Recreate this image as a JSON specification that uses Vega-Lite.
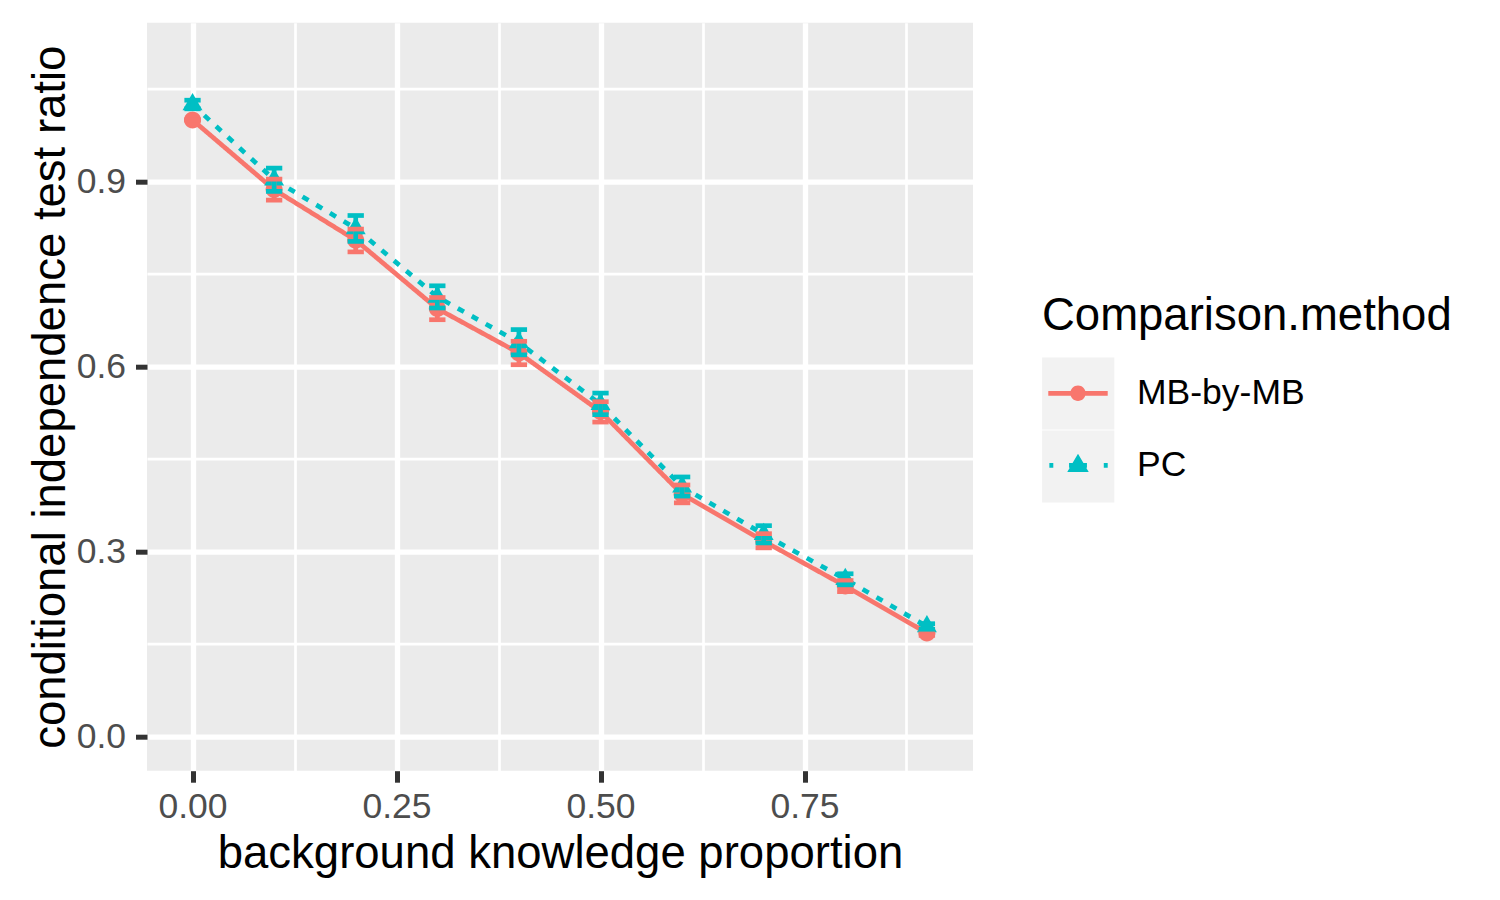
{
  "$schema": "https://vega.github.io/schema/vega-lite/v6.json",
  "width": 826,
  "height": 748,
  "autosize": {"type": "none"},
  "padding": {"left": 147, "top": 22.7, "right": 527, "bottom": 129.3},
  "background": "white",
  "config": {
    "font": "Liberation Sans",
    "view": {"fill": "#EBEBEB", "stroke": null},
    "axis": {
      "domain": false,
      "grid": true,
      "gridColor": "white",
      "tickColor": "#333333",
      "tickWidth": 5,
      "tickSize": 11.5,
      "labelFont": "Liberation Sans",
      "labelFontSize": 35.5,
      "labelColor": "#4D4D4D",
      "labelOverlap": false,
      "labelFlush": false,
      "titleFont": "Liberation Sans",
      "titleFontSize": 45.5,
      "titleFontWeight": "normal",
      "titleColor": "black"
    },
    "axisX": {"labelPadding": 7},
    "axisY": {"labelPadding": 10}
  },
  "data": {
    "values": [
      {"p": 0.0, "method": "MB-by-MB", "ratio": 1.0, "lo": 1.0, "hi": 1.0},
      {"p": 0.1, "method": "MB-by-MB", "ratio": 0.887, "lo": 0.87, "hi": 0.904},
      {"p": 0.2, "method": "MB-by-MB", "ratio": 0.805, "lo": 0.786, "hi": 0.823},
      {"p": 0.3, "method": "MB-by-MB", "ratio": 0.694, "lo": 0.676, "hi": 0.712},
      {"p": 0.4, "method": "MB-by-MB", "ratio": 0.622, "lo": 0.603, "hi": 0.641},
      {"p": 0.5, "method": "MB-by-MB", "ratio": 0.527, "lo": 0.51, "hi": 0.543},
      {"p": 0.6, "method": "MB-by-MB", "ratio": 0.393, "lo": 0.379, "hi": 0.408},
      {"p": 0.7, "method": "MB-by-MB", "ratio": 0.317, "lo": 0.306, "hi": 0.329},
      {"p": 0.8, "method": "MB-by-MB", "ratio": 0.244, "lo": 0.235, "hi": 0.253},
      {"p": 0.9, "method": "MB-by-MB", "ratio": 0.168, "lo": 0.164, "hi": 0.172},
      {"p": 0.0, "method": "PC", "ratio": 1.025, "lo": 1.018, "hi": 1.032},
      {"p": 0.1, "method": "PC", "ratio": 0.903, "lo": 0.884, "hi": 0.922},
      {"p": 0.2, "method": "PC", "ratio": 0.824, "lo": 0.803, "hi": 0.845},
      {"p": 0.3, "method": "PC", "ratio": 0.713, "lo": 0.695, "hi": 0.731},
      {"p": 0.4, "method": "PC", "ratio": 0.639, "lo": 0.619, "hi": 0.66},
      {"p": 0.5, "method": "PC", "ratio": 0.539, "lo": 0.522, "hi": 0.557},
      {"p": 0.6, "method": "PC", "ratio": 0.405, "lo": 0.39, "hi": 0.421},
      {"p": 0.7, "method": "PC", "ratio": 0.328, "lo": 0.314, "hi": 0.342},
      {"p": 0.8, "method": "PC", "ratio": 0.255, "lo": 0.246, "hi": 0.264},
      {"p": 0.9, "method": "PC", "ratio": 0.1785, "lo": 0.174, "hi": 0.183}
    ]
  },
  "encoding": {
    "x": {
      "field": "p",
      "type": "quantitative",
      "scale": {"domain": [-0.0558, 0.9565], "nice": false, "zero": false},
      "axis": {
        "title": "background knowledge proportion",
        "values": [0, 0.125, 0.25, 0.375, 0.5, 0.625, 0.75, 0.875],
        "labelExpr": "(round(datum.value*1000) % 250) != 0 ? '' : format(datum.value, '.2f')",
        "gridWidth": {"condition": {"test": "(round(datum.value*1000) % 250) != 0", "value": 2.7}, "value": 5.3},
        "tickOpacity": {"condition": {"test": "(round(datum.value*1000) % 250) != 0", "value": 0}, "value": 1},
        "titleBaseline": "alphabetic",
        "titleY": 96.7
      }
    }
  },
  "layer": [
    {
      "mark": {"type": "line", "strokeWidth": 4.7},
      "encoding": {
        "y": {
          "field": "ratio",
          "type": "quantitative",
          "title": "conditional independence test ratio",
          "scale": {"domain": [-0.0554, 1.1577], "nice": false, "zero": false},
          "axis": {
            "values": [0, 0.15, 0.3, 0.45, 0.6, 0.75, 0.9, 1.05],
            "labelExpr": "(round(datum.value*100) % 30) != 0 ? '' : format(datum.value, '.1f')",
            "gridWidth": {"condition": {"test": "(round(datum.value*100) % 30) != 0", "value": 2.7}, "value": 5.3},
            "tickOpacity": {"condition": {"test": "(round(datum.value*100) % 30) != 0", "value": 0}, "value": 1},
            "titleBaseline": "alphabetic",
            "titleAngle": -90,
            "titleAlign": "center",
            "titleX": -82.3,
            "titleY": 374
          }
        },
        "color": {"field": "method", "type": "nominal", "scale": {"range": ["#F8766D", "#00BFC4"]}},
        "strokeDash": {"field": "method", "type": "nominal", "scale": {"range": [[1, 0], [7, 9]]}, "legend": null}
      }
    },
    {
      "mark": {"type": "point", "filled": true, "opacity": 1, "size": 529},
      "encoding": {
        "y": {"field": "ratio", "type": "quantitative", "title": "conditional independence test ratio", "scale": {"domain": [-0.0554, 1.1577], "nice": false, "zero": false}},
        "shape": {
          "field": "method",
          "type": "nominal",
          "scale": {"range": ["M 0.74 0 A 0.74 0.74 0 1 1 -0.74 0 A 0.74 0.74 0 1 1 0.74 0 Z", "M 0 -1 L 0.866 0.5 L -0.866 0.5 Z"]},
          "legend": null
        },
        "color": {
          "field": "method",
          "type": "nominal",
          "scale": {"range": ["#F8766D", "#00BFC4"]},
          "legend": {
            "title": "Comparison.method",
            "orient": "none",
            "direction": "vertical",
            "legendX": 895,
            "legendY": 271.4,
            "padding": 0,
            "rowPadding": 0,
            "symbolSize": 5127,
            "symbolStrokeWidth": 0,
            "symbolOpacity": 1,
            "titleFont": "Liberation Sans",
            "titleFontSize": 45.5,
            "titleFontWeight": "normal",
            "titleColor": "black",
            "titlePadding": 17.7,
            "titleLimit": 2000,
            "labelFont": "Liberation Sans",
            "labelFontSize": 35.5,
            "labelColor": "black",
            "labelOffset": 23,
            "labelLimit": 2000,
            "zindex": 1,
            "encode": {
              "symbols": {
                "update": {
                  "shape": {"signal": "datum.value === 'PC' ? 'M -1 -1 L -1 -1 Z M 1 1 L 1 1 Z M -0.8 -0.066 H -0.69 V 0.066 H -0.8 Z M 0.72 -0.066 H 0.83 V 0.066 H 0.72 Z M -0.25 -0.066 H 0.25 V 0.066 H -0.25 Z M 0 -0.324 L 0.3 0.19 L -0.3 0.19 Z' : 'M -1 -1 L -1 -1 Z M 1 1 L 1 1 Z M -0.83 -0.066 H 0.83 V 0.066 H -0.83 Z M 0.215 0 A 0.215 0.215 0 1 1 -0.215 0 A 0.215 0.215 0 1 1 0.215 0 Z'"},
                  "fill": {"signal": "datum.value === 'PC' ? '#00BFC4' : '#F8766D'"},
                  "strokeWidth": {"value": 0},
                  "opacity": {"value": 1}
                }
              }
            }
          }
        }
      }
    },
    {
      "mark": {"type": "rule", "strokeWidth": 4.7, "opacity": 1},
      "encoding": {
        "y": {"field": "lo", "type": "quantitative", "title": "conditional independence test ratio", "scale": {"domain": [-0.0554, 1.1577], "nice": false, "zero": false}},
        "y2": {"field": "hi"},
        "color": {"field": "method", "type": "nominal", "scale": {"range": ["#F8766D", "#00BFC4"]}}
      }
    },
    {
      "mark": {"type": "tick", "orient": "horizontal", "size": 16.3, "thickness": 4.7, "opacity": 1},
      "encoding": {
        "y": {"field": "hi", "type": "quantitative", "title": "conditional independence test ratio", "scale": {"domain": [-0.0554, 1.1577], "nice": false, "zero": false}},
        "color": {"field": "method", "type": "nominal", "scale": {"range": ["#F8766D", "#00BFC4"]}}
      }
    },
    {
      "mark": {"type": "tick", "orient": "horizontal", "size": 16.3, "thickness": 4.7, "opacity": 1},
      "encoding": {
        "y": {"field": "lo", "type": "quantitative", "title": "conditional independence test ratio", "scale": {"domain": [-0.0554, 1.1577], "nice": false, "zero": false}},
        "color": {"field": "method", "type": "nominal", "scale": {"range": ["#F8766D", "#00BFC4"]}}
      }
    },
    {
      "mark": {"type": "point", "filled": true, "size": 0},
      "encoding": {
        "y": {"field": "ratio", "type": "quantitative", "title": "conditional independence test ratio", "scale": {"domain": [-0.0554, 1.1577], "nice": false, "zero": false}},
        "fill": {
          "field": "method",
          "type": "nominal",
          "scale": {"domain": ["MB-by-MB", "PC"], "range": ["#F2F2F2", "#F2F2F2"]},
          "legend": {
            "title": null,
            "orient": "none",
            "direction": "vertical",
            "legendX": 894.7,
            "legendY": 334.3,
            "padding": 0,
            "rowPadding": -0.6,
            "symbolType": "square",
            "symbolSize": 5213,
            "symbolStrokeWidth": 0,
            "symbolOpacity": 1,
            "labelExpr": "''",
            "labelFontSize": 10,
            "zindex": 0
          }
        }
      }
    }
  ]
}
